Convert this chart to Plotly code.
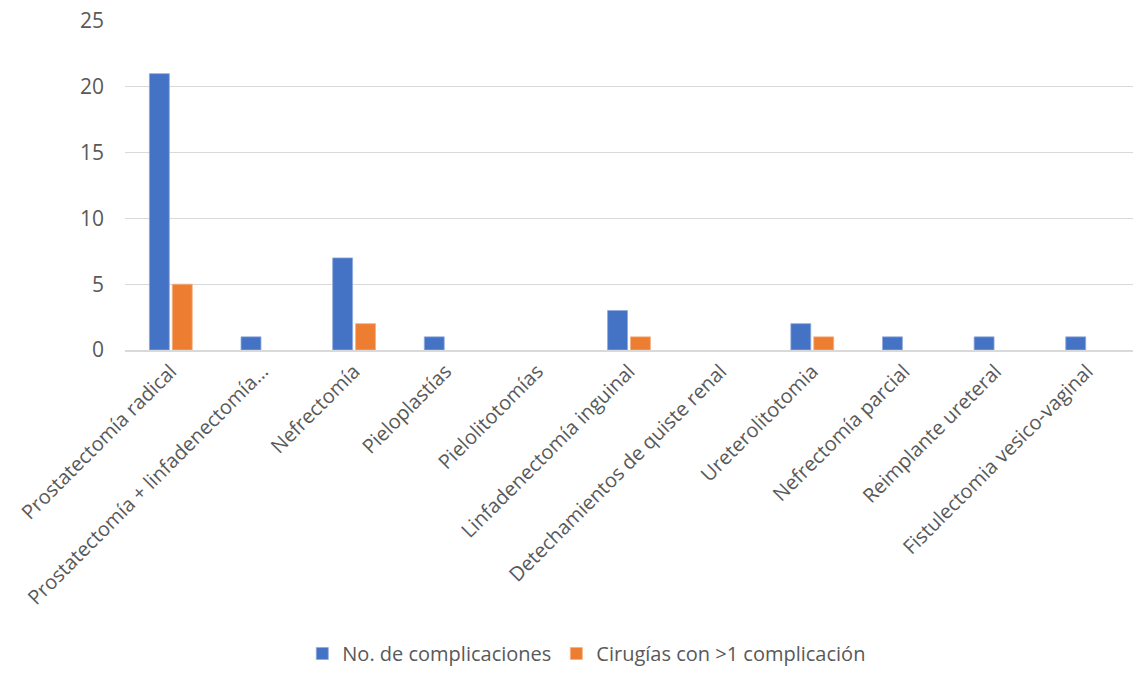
import plotly.graph_objects as go

categories = [
    "Prostatectomía radical",
    "Prostatectomía + linfadenectomía…",
    "Nefrectomía",
    "Pieloplastías",
    "Pielolitotomías",
    "Linfadenectomía inguinal",
    "Detechamientos de quiste renal",
    "Ureterolitotomia",
    "Nefrectomía parcial",
    "Reimplante ureteral",
    "Fistulectomia vesico-vaginal",
]
complicaciones = [21, 1, 7, 1, 0, 3, 0, 2, 1, 1, 1]
mas_de_una = [5, 0, 2, 0, 0, 1, 0, 1, 0, 0, 0]
y_ticks = [0, 5, 10, 15, 20, 25]

font_family = "Open Sans, Liberation Sans, sans-serif"
text_color = "#595959"


def outline_widths(values):
    # thin light outline only on bars that have height
    return [0.8 if v > 0 else 0 for v in values]


fig = go.Figure()
fig.add_trace(go.Bar(
    x=categories, y=complicaciones, name="No. de complicaciones",
    marker=dict(color="#4472C4",
                line=dict(color="#8FAADC", width=outline_widths(complicaciones))),
))
fig.add_trace(go.Bar(
    x=categories, y=mas_de_una, name="Cirugías con >1 complicación",
    marker=dict(color="#ED7D31",
                line=dict(color="#F4B183", width=outline_widths(mas_de_una))),
))

fig.update_layout(
    width=1135, height=673,
    margin=dict(l=125, r=2, t=21, b=323, autoexpand=False),
    paper_bgcolor="white", plot_bgcolor="white",
    barmode="group", bargap=0.5, bargroupgap=0.13,
    font=dict(family=font_family, size=21, color=text_color),
    legend=dict(
        orientation="h", xref="container", yref="container",
        x=0.517, xanchor="center", y=0.0, yanchor="bottom",
        font=dict(size=20, color=text_color), itemwidth=30,
        traceorder="normal",
    ),
    xaxis=dict(
        tickangle=-45, showgrid=False, showline=True,
        linecolor="#D9D9D9", linewidth=1.5, ticks="",
        tickfont=dict(size=20, color=text_color),
    ),
    yaxis=dict(
        range=[0, 25], tickvals=y_ticks, showgrid=True,
        gridcolor="#D9D9D9", gridwidth=1.3, zeroline=False,
        showline=False, ticks="", ticklabelstandoff=20,
        tickfont=dict(size=21, color=text_color),
    ),
)

fig.write_html("out.html")
